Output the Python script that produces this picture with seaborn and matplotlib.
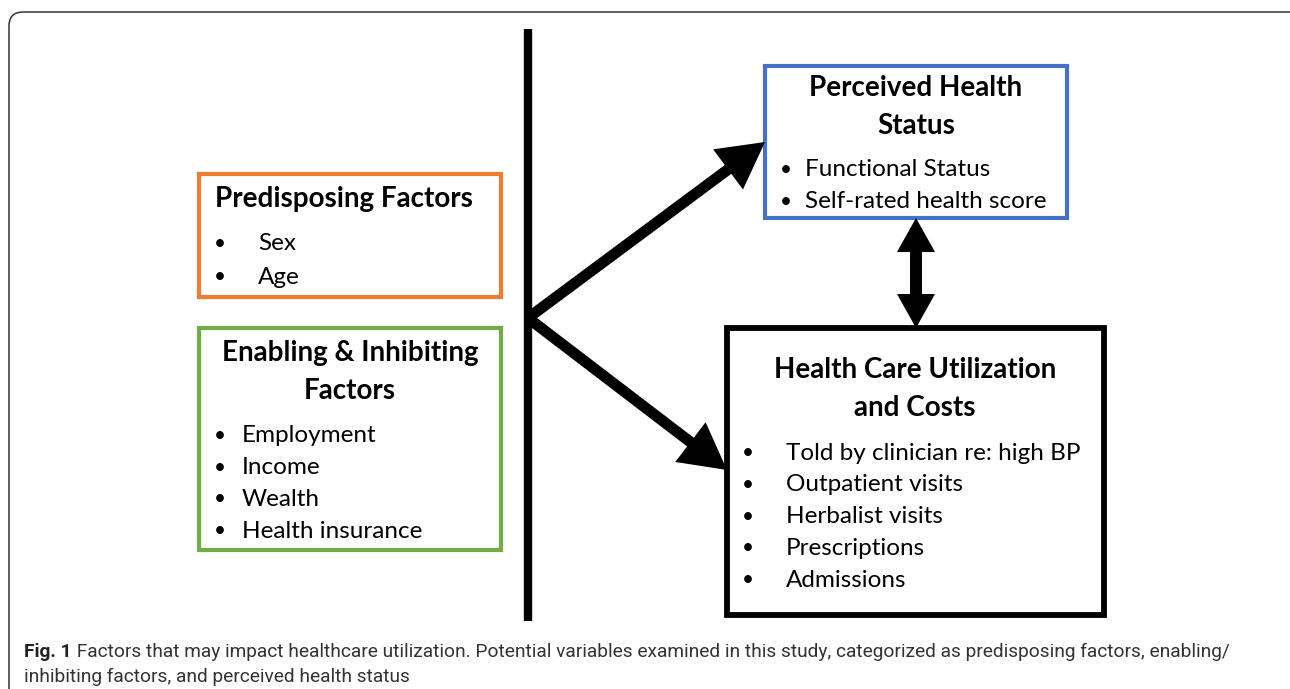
import matplotlib
matplotlib.use("Agg")
import matplotlib.pyplot as plt
from matplotlib.patches import Rectangle, FancyArrow, FancyBboxPatch
import seaborn as sns

sns.set_theme(style="white")
plt.rcParams['font.family'] = ['Lato', 'DejaVu Sans']

# box contents
box_titles = ["Predisposing Factors", "Enabling & Inhibiting\nFactors",
              "Perceived Health\nStatus", "Health Care Utilization\nand Costs"]
box_items = [
    ["Sex", "Age"],
    ["Employment", "Income", "Wealth", "Health insurance"],
    ["Functional Status", "Self-rated health score"],
    ["Told by clinician re: high BP", "Outpatient visits", "Herbalist visits",
     "Prescriptions", "Admissions"],
]
box_colors = ["#ED7D31", "#70AD47", "#4472C4", "#000000"]
caption_bold = "Fig. 1"
caption_lines = [
    " Factors that may impact healthcare utilization. Potential variables examined in this study, categorized as predisposing factors, enabling/",
    "inhibiting factors, and perceived health status",
]

# layout in pixel units
layout = [
    dict(box=(199, 174, 501, 297), ha="left", tx=215, ty=199, bx=220, ix=258, iy=244, step=33, lw=3.0),
    dict(box=(199, 328, 501, 550), ha="center", tx=350, ty=372, bx=220, ix=242, iy=436, step=31.7, lw=3.0),
    dict(box=(765, 66, 1067, 218), ha="center", tx=916, ty=107, bx=786, ix=805, iy=170, step=32, lw=3.0),
    dict(box=(727, 328, 1104, 615), ha="center", tx=915, ty=389, bx=748, ix=786, iy=453, step=31.8, lw=4.2),
]

fig = plt.figure(figsize=(12.9, 6.89), dpi=100)
ax = fig.add_axes([0, 0, 1, 1])
ax.set_xlim(0, 1290)
ax.set_ylim(689, 0)
ax.axis("off")

# outer frame
frame = FancyBboxPatch((9, 12), 1300, 720, boxstyle="round,pad=0,rounding_size=14",
                       fill=False, ec="#333333", lw=1.1)
ax.add_patch(frame)

# vertical divider
ax.plot([528, 528], [29, 621], color="black", lw=6, solid_capstyle="butt")

for title, items, col, lay in zip(box_titles, box_items, box_colors, layout):
    l, t, r, b = lay["box"]
    ax.add_patch(Rectangle((l, t), r - l, b - t, fill=False, ec=col, lw=lay["lw"]))
    ax.text(lay["tx"], lay["ty"], title, ha=lay["ha"], va="center", fontsize=20,
            fontweight="bold", color="black", linespacing=1.55)
    for k, it in enumerate(items):
        y = lay["iy"] + k * lay["step"]
        ax.text(lay["bx"], y, "\u2022", ha="center", va="center", fontsize=15, color="black")
        ax.text(lay["ix"], y, it, ha="left", va="center", fontsize=17.5, color="black")

# arrows from the divider
arrow_kw = dict(width=11, head_width=50, head_length=46, length_includes_head=True,
                color="black", lw=0)
ax.add_patch(FancyArrow(528, 318, 765 - 528, 142 - 318, **arrow_kw))
ax.add_patch(FancyArrow(528, 318, 727 - 528, 470 - 318, **arrow_kw))

# double arrow between health status and utilization
dbl_kw = dict(width=12, head_width=38, head_length=34, length_includes_head=True,
              color="black", lw=0)
ax.add_patch(FancyArrow(916, 273, 0, 218 - 273, **dbl_kw))
ax.add_patch(FancyArrow(916, 273, 0, 328 - 273, **dbl_kw))

# caption
cap_font = ['Roboto', 'DejaVu Sans']
t1 = ax.text(24, 652, caption_bold, ha="left", va="center", fontsize=13.8,
             fontweight="bold", family=cap_font, color="#222222")
fig.canvas.draw()
bb = t1.get_window_extent()
x_end = ax.transData.inverted().transform((bb.x1, bb.y0))[0]
ax.text(x_end, 652, caption_lines[0], ha="left", va="center", fontsize=13.8,
        family=cap_font, color="#333333")
ax.text(24, 677, caption_lines[1], ha="left", va="center", fontsize=13.8,
        family=cap_font, color="#333333")

fig.savefig("out.png", dpi=100)
